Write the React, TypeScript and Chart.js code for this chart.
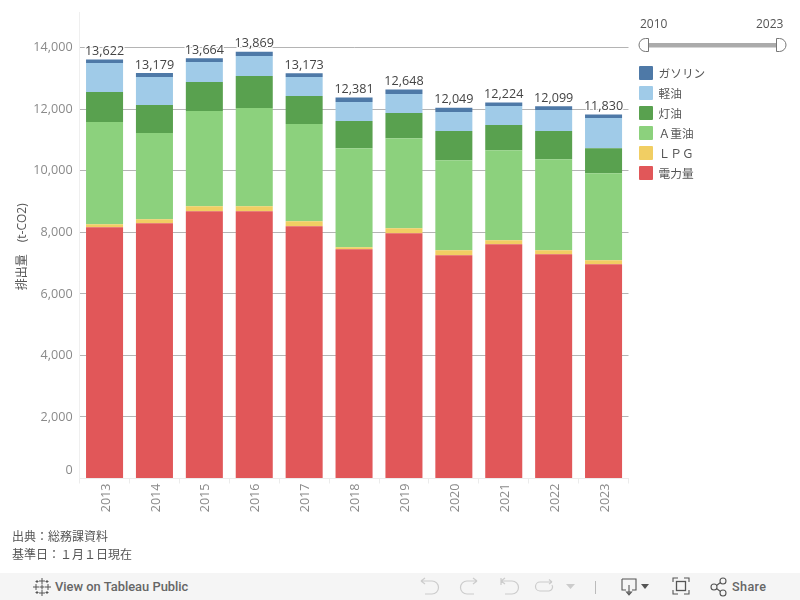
import React, { useEffect, useRef } from "react";
import { Chart, registerables } from "chart.js";

Chart.register(...registerables);

const years = ["2013", "2014", "2015", "2016", "2017", "2018", "2019", "2020", "2021", "2022", "2023"];
const electricity = [8168, 8298, 8689, 8689, 8200, 7452, 7973, 7257, 7615, 7289, 6964];
const lpg = [97, 130, 162, 162, 163, 65, 162, 162, 130, 130, 130];
const aHeavyOil = [3320, 2799, 3092, 3189, 3157, 3222, 2929, 2929, 2929, 2962, 2831];
const kerosene = [976, 911, 944, 1042, 911, 878, 814, 944, 813, 911, 814];
const diesel = [944, 911, 650, 651, 618, 619, 618, 618, 618, 683, 976];
const gasoline = [117, 130, 127, 136, 124, 145, 152, 139, 119, 124, 115];
const totals = [13622, 13179, 13664, 13869, 13173, 12381, 12648, 12049, 12224, 12099, 11830];
const yTicks = [0, 2000, 4000, 6000, 8000, 10000, 12000, 14000];
const seriesNames = ["電力量", "ＬＰＧ", "Ａ重油", "灯油", "軽油", "ガソリン"];
const seriesColors = ["#e15759", "#f1ce63", "#8cd17d", "#59a14f", "#a0cbe8", "#4e79a7"];
const seriesValues = [electricity, lpg, aHeavyOil, kerosene, diesel, gasoline];
const sliderYears = ["2010", "2023"];
const footerLines = ["出典：総務課資料", "基準日：１月１日現在"];

const FONT = "'Open Sans', 'Noto Sans CJK JP', sans-serif";
const CJK = "'Noto Sans CJK JP', 'Open Sans', sans-serif";

const totalsPlugin = {
  id: "totals",
  afterDatasetsDraw(chart: any) {
    const { ctx } = chart;
    const meta = chart.getDatasetMeta(chart.data.datasets.length - 1);
    ctx.save();
    ctx.font = `12.6px ${FONT}`;
    ctx.textAlign = "center";
    ctx.textBaseline = "alphabetic";
    ctx.lineJoin = "round";
    totals.forEach((t, i) => {
      const el = meta.data[i];
      const label = t.toLocaleString("en-US");
      const y = chart.scales.y.getPixelForValue(t) - 4.5;
      ctx.strokeStyle = "rgba(255,255,255,0.9)";
      ctx.lineWidth = 3;
      ctx.strokeText(label, el.x, y);
      ctx.fillStyle = "#444";
      ctx.fillText(label, el.x, y);
    });
    const s = chart.scales.y;
    ctx.font = `12.6px ${FONT}`;
    ctx.textAlign = "right";
    ctx.textBaseline = "middle";
    ctx.fillStyle = "#8a8a8a";
    ctx.fillText("0", s.right - 7, s.getPixelForValue(0) - 8);
    ctx.restore();
  },
};

const Icon = ({ x, w, children }: any) => (
  <svg style={{ position: "absolute", left: x, top: 576, width: w, height: 22 }} viewBox={`0 0 ${w} 22`} fill="none">
    {children}
  </svg>
);

const noPadding = (s: any) => {
  s.paddingTop = 0;
  s.paddingBottom = 0;
  s.paddingLeft = 0;
  s.paddingRight = 0;
};

export default function App() {
  const ref = useRef<HTMLCanvasElement>(null);
  useEffect(() => {
    const chart = new Chart(ref.current!, {
      type: "bar",
      data: {
        labels: years,
        datasets: seriesNames.map((name, i) => ({
          label: name,
          data: seriesValues[i],
          backgroundColor: seriesColors[i],
          barPercentage: 0.742,
          categoryPercentage: 1,
          borderWidth: 0,
        })),
      },
      plugins: [totalsPlugin],
      options: {
        animation: false,
        responsive: false,
        layout: { padding: { top: 12, right: 171.5, bottom: 0, left: 0 } },
        plugins: { legend: { display: false }, tooltip: { enabled: false } },
        scales: {
          x: {
            stacked: true,
            afterFit: (s: any) => { s.height = 121.5; noPadding(s); },
            grid: { drawOnChartArea: false, color: "#ececec", tickLength: 5 },
            border: { color: "#ececec" },
            ticks: {
              autoSkip: false,
              minRotation: 90,
              maxRotation: 90,
              color: "#8a8a8a",
              padding: 0,
              labelOffset: 1.5,
              font: { family: FONT, size: 12.6 },
            },
          },
          y: {
            stacked: true,
            min: 0,
            max: 15164,
            afterFit: (s: any) => { s.width = 79.6; noPadding(s); },
            afterBuildTicks: (s: any) => { s.ticks = yTicks.map((value) => ({ value })); },
            title: {
              display: true,
              text: "排出量　(t-CO2) ",
              color: "#555",
              padding: { top: 15, bottom: 0 },
              font: { family: FONT, size: 12 },
            },
            grid: {
              drawTicks: false,
              color: (c: any) => (c.tick && c.tick.value === 0 ? "rgba(0,0,0,0)" : "#b4b4b4"),
            },
            border: { color: "#efefef" },
            ticks: {
              color: "#8a8a8a",
              padding: 7,
              font: { family: FONT, size: 12.6 },
              callback: (v: any) => (v === 0 ? "" : Number(v).toLocaleString("en-US")),
            },
          },
        },
      },
    } as any);
    return () => chart.destroy();
  }, []);

  return (
    <div style={{ position: "fixed", left: 0, top: 0, width: 800, height: 600, background: "#fff", overflow: "hidden" }}>
      <canvas ref={ref} width={800} height={600} style={{ position: "absolute", left: 0, top: 0, display: "block" }} />

      {sliderYears.map((y, i) => (
        <div key={y} style={{ position: "absolute", left: i === 0 ? 640 : 756, top: 16, font: `12px/16px ${FONT}`, color: "#555" }}>
          {y}
        </div>
      ))}
      <svg style={{ position: "absolute", left: 636, top: 34, width: 156, height: 22 }} viewBox="0 0 156 22">
        <rect x="13" y="9" width="127" height="4.5" fill="#ababab" />
        <path d="M12.5 4.5 H9.5 A6.5 6.5 0 0 0 9.5 17.5 H12.5 Z" fill="#fff" stroke="#777" strokeWidth="1" />
        <path d="M140.5 4.5 H143.5 A6.5 6.5 0 0 1 143.5 17.5 H140.5 Z" fill="#fff" stroke="#777" strokeWidth="1" />
      </svg>

      {seriesNames.map((_, k) => {
        const i = seriesNames.length - 1 - k;
        return (
          <div key={i} style={{ position: "absolute", left: 639, top: 66 + k * 20, height: 14, display: "flex", alignItems: "center" }}>
            <span style={{ width: 14, height: 14, background: seriesColors[i], display: "inline-block", borderRadius: 1 }} />
            <span style={{ marginLeft: 5.5, font: `11.7px/14px ${CJK}`, color: "#555", whiteSpace: "nowrap" }}>{seriesNames[i]}</span>
          </div>
        );
      })}

      {footerLines.map((line, i) => (
        <div key={line} style={{ position: "absolute", left: 12, top: 527 + i * 18, font: `12px/18px ${CJK}`, color: "#555", whiteSpace: "nowrap" }}>
          {line}
        </div>
      ))}

      <div style={{ position: "absolute", left: 0, top: 573, width: 800, height: 27, background: "#f5f5f5" }} />
      <Icon x={32} w={20}>
        <g stroke="#555" strokeWidth="1">
          <path d="M10 2v6M7 5h6M10 14v6M7 17h6M4 8v6M1 11h6M16 8v6M13 11h6M10 8.5v5M7.5 11h5M5 4v3M3.5 5.5h3M15 4v3M13.5 5.5h3M5 15v3M3.5 16.5h3M15 15v3M13.5 16.5h3" />
        </g>
      </Icon>
      <div style={{ position: "absolute", left: 55, top: 578, font: `500 12.9px/18px Roboto, sans-serif`, color: "#666", whiteSpace: "nowrap" }}>
        View on Tableau Public
      </div>
      <Icon x={418} w={22}>
        <path d="M3 5h11a6 6 0 0 1 0 13H7M3 5l4-3M3 5l4 3" stroke="#ccc" strokeWidth="1.2" />
      </Icon>
      <Icon x={458} w={22}>
        <path d="M19 5H9a6 6 0 0 0 0 13h7M19 5l-4-3M19 5l-4 3" stroke="#ccc" strokeWidth="1.2" />
      </Icon>
      <Icon x={498} w={22}>
        <path d="M3 2v7M3 5h11a6 6 0 0 1 0 13H7M3 5l4-3M3 5l4 3" stroke="#ccc" strokeWidth="1.2" />
      </Icon>
      <Icon x={534} w={22}>
        <path d="M18 6H6a4 4 0 0 0 0 9h9a4 4 0 0 0 3-6M18 6l-3-2.500M18 6l-3 2" stroke="#ccc" strokeWidth="1.2" />
      </Icon>
      <Icon x={565} w={12}>
        <path d="M1 8h9l-4.500 5z" fill="#ccc" />
      </Icon>
      <Icon x={590} w={10}>
        <path d="M5.500 5v13" stroke="#bbb" strokeWidth="1" />
      </Icon>
      <Icon x={620} w={34}>
        <path d="M2 3h14v11h-4M6 14H2V3M9 9v9M6.500 16l2.500 3 2.500-3z" stroke="#555" strokeWidth="1.1" />
        <path d="M21 8h8l-4 5z" fill="#555" />
      </Icon>
      <Icon x={672} w={18}>
        <path d="M1 6V2h5M12 2h5v4M17 14v4h-5M6 18H1v-4" stroke="#555" strokeWidth="1.1" />
        <rect x="4.500" y="5.500" width="9" height="9" stroke="#555" strokeWidth="1.3" />
      </Icon>
      <Icon x={710} w={18}>
        <circle cx="4" cy="11" r="3" stroke="#555" strokeWidth="1.1" />
        <circle cx="13" cy="5" r="3" stroke="#555" strokeWidth="1.1" />
        <circle cx="13" cy="17" r="3" stroke="#555" strokeWidth="1.1" />
        <path d="M6.500 9.500l4-3M6.500 12.500l4 3" stroke="#555" strokeWidth="1.1" />
      </Icon>
      <div style={{ position: "absolute", left: 732, top: 578, font: `500 12.6px/18px Roboto, sans-serif`, color: "#666", letterSpacing: 0.4 }}>
        Share
      </div>
    </div>
  );
}
